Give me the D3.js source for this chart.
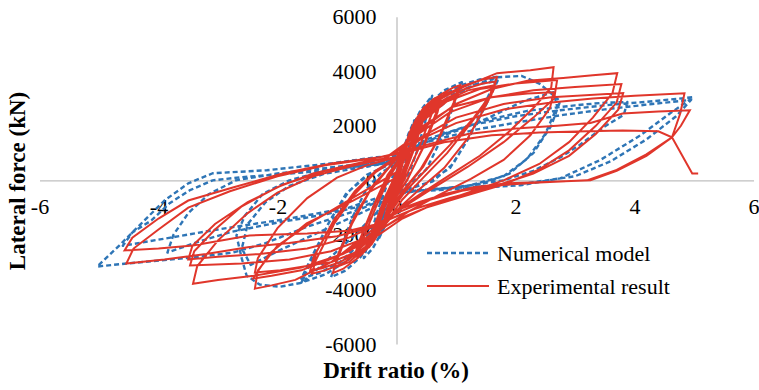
<!DOCTYPE html>
<html>
<head>
<meta charset="utf-8">
<script src="https://cdn.jsdelivr.net/npm/d3@7"></script>
<style>
  body { margin: 0; background: #ffffff; }
  text { font-family: "Liberation Serif", "Times New Roman", serif; fill: #000; }
</style>
</head>
<body>
<svg id="chart" width="759" height="390"></svg>
<script>
// Axis ticks and series names
const xTicks = [-6, -4, -2, 0, 2, 4, 6];
const yTicks = [-6000, -4000, -2000, 0, 2000, 4000, 6000];
const seriesNames = ["Numerical model", "Experimental result"];

// Numerical model: [drift ratio (%), lateral force (kN)] in loading order
const numerical = [
  [0, 0], [0.08, 800], [0.15, 1300], [0.1, 700], [0.03, 100], [0, -100], [-0.08, -900], [-0.15, -1300], [-0.1, -700], [-0.03, -50], [0, 100],
  [0.1, 1000], [0.2, 1700], [0.3, 2200], [0.24, 1500], [0.12, 400], [0, -200], [-0.1, -1000], [-0.2, -1700], [-0.3, -2150], [-0.24, -1450], [-0.12, -350], [0, 250],
  [0.1, 1000], [0.25, 1900], [0.4, 2550], [0.6, 3100], [0.5, 2300], [0.35, 1100], [0.2, 200], [0.05, -150], [0, -300], [-0.1, -1000], [-0.25, -1900], [-0.4, -2500], [-0.55, -2850], [-0.45, -2100], [-0.3, -1000], [-0.15, -100], [0, 300],
  [0.1, 1000], [0.3, 2000], [0.55, 2800], [0.8, 3300], [1.1, 3600], [0.95, 2700], [0.75, 1500], [0.5, 400], [0.25, -100], [0, -300], [-0.15, -1100], [-0.35, -2000], [-0.6, -2800], [-0.85, -3300], [-1.1, -3550], [-0.95, -2600], [-0.75, -1400], [-0.5, -300], [-0.25, 300], [0, 600],
  [0.15, 1300], [0.4, 2300], [0.7, 3000], [1.1, 3500], [1.4, 3700], [1.7, 3800], [1.5, 2900], [1.25, 1700], [0.95, 600], [0.6, -50], [0.3, -250], [0, -400], [-0.2, -1200], [-0.45, -2100], [-0.8, -2900], [-1.2, -3450], [-1.6, -3750], [-1.4, -2800], [-1.15, -1600], [-0.85, -500], [-0.5, 200], [-0.2, 500], [0, 700],
  [0.2, 1500], [0.5, 2400], [0.9, 3100], [1.3, 3500], [1.7, 3650], [1.5, 2750], [1.2, 1500], [0.9, 450], [0.5, -100], [0.2, -300], [0, -450], [-0.25, -1300], [-0.55, -2200], [-0.95, -3000], [-1.3, -3400], [-1.6, -3600], [-1.4, -2700], [-1.1, -1400], [-0.8, -400], [-0.45, 250], [-0.15, 550], [0, 700],
  [0.2, 1400], [0.5, 2300], [0.9, 3000], [1.3, 3500], [1.7, 3780], [2.1, 3830], [2.4, 3550], [2.65, 3100], [2.75, 2900], [2.6, 2000], [2.3, 1000], [1.9, 250], [1.4, -150], [0.8, -300], [0, -450], [-0.3, -1100], [-0.7, -2000], [-1.1, -2800], [-1.58, -3750], [-1.96, -3900], [-2.3, -3820], [-2.52, -3490], [-2.6, -2870], [-2.69, -2020], [-2.55, -1300], [-2.25, -500], [-1.8, 0], [-1.2, 350], [-0.6, 550], [0, 750],
  [0.3, 1200], [0.7, 1600], [1.07, 1850], [1.57, 2320], [2.13, 2900], [2.64, 3230], [2.7, 2700], [2.5, 1700], [2.2, 800], [1.8, 150], [1.2, -200], [0.5, -350], [0, -500], [-0.4, -1000], [-0.9, -1500], [-1.5, -2100], [-2.0, -2600], [-2.45, -3100], [-2.6, -2500], [-2.5, -1600], [-2.2, -800], [-1.8, -200], [-1.2, 250], [-0.5, 500], [0, 700],
  [0.3, 1200], [0.8, 1700], [1.5, 2200], [2.2, 2550], [3.0, 2750], [3.5, 2850], [3.88, 2870], [3.82, 2400], [3.48, 1950], [3.08, 1300], [2.76, 850], [2.3, 350], [1.8, 0], [1.0, -250], [0, -450], [-0.5, -900], [-1.2, -1250], [-2.0, -1550], [-2.8, -1900], [-3.4, -2300], [-3.85, -2650], [-3.75, -2000], [-3.5, -1200], [-3.15, -500], [-2.7, 0], [-2.0, 250], [-1.2, 450], [-0.4, 650], [0, 750],
  [0.5, 1500], [1.2, 2000], [2.0, 2350], [2.75, 2570], [3.5, 2750], [4.3, 2900], [4.99, 3050], [4.6, 2460], [4.1, 1650], [3.42, 740], [2.75, 70], [2.08, -180], [1.24, -290], [0.06, -440], [-0.6, -1050], [-1.5, -1700], [-2.2, -2300], [-2.75, -2650], [-3.43, -2830], [-3.98, -2940], [-4.54, -3050], [-5.03, -3160], [-4.66, -2390], [-4.32, -1650], [-3.9, -740], [-3.5, -110], [-3.09, 260], [-2.18, 370], [-1.07, 630], [-0.33, 850], [0, 900],
  [0.5, 1400], [1.3, 1850], [2.1, 2150], [2.8, 2400], [3.5, 2600], [4.3, 2800], [4.95, 2950], [4.7, 2350], [4.2, 1500], [3.6, 700], [3.0, 150], [2.2, -100], [1.2, -250], [0, -400], [-0.8, -1000], [-1.8, -1400], [-3.0, -1800], [-3.8, -2100], [-4.6, -2400], [-4.44, -1910], [-4.12, -1470], [-3.82, -850], [-3.48, -370], [-3.09, 0], [-2.63, 110], [-1.5, 300], [-0.5, 550], [0, 650]
];

// Experimental result: [drift ratio (%), lateral force (kN)] in loading order
const experimental = [
  [0, 0],
  [0.06, 500], [0.12, 1000], [0.14, 1150], [0.1, 700], [0.02, 150], [-0.05, -400], [-0.11, -900], [-0.14, -1050], [-0.1, -650], [-0.02, -50],
  [0.08, 700], [0.16, 1350], [0.22, 1750], [0.19, 1400], [0.08, 400], [-0.03, -300], [-0.12, -1050], [-0.2, -1550], [-0.23, -1650], [-0.18, -1200], [-0.07, -300], [0.02, 300],
  [0.12, 1100], [0.22, 1750], [0.32, 2200], [0.35, 2300], [0.3, 1800], [0.15, 600], [0, -300], [-0.15, -1200], [-0.28, -1850], [-0.35, -2100], [-0.3, -1650], [-0.12, -500], [0.02, 250],
  [0.14, 1250], [0.26, 1950], [0.36, 2350], [0.4, 2450], [0.34, 1950], [0.18, 750], [0.02, -250], [-0.14, -1150], [-0.27, -1800], [-0.38, -2200], [-0.4, -2250], [-0.33, -1700], [-0.15, -550], [0.01, 280],
  [0.15, 1300], [0.3, 2100], [0.42, 2550], [0.47, 2700], [0.42, 2250], [0.25, 1000], [0.05, -200], [-0.15, -1250], [-0.3, -1950], [-0.42, -2350], [-0.45, -2400], [-0.38, -1850], [-0.18, -600], [0, 300],
  [0.17, 1400], [0.33, 2200], [0.46, 2620], [0.52, 2780], [0.46, 2300], [0.28, 1050], [0.06, -250], [-0.16, -1300], [-0.33, -2050], [-0.46, -2450], [-0.5, -2500], [-0.42, -1950], [-0.2, -650], [0.02, 350],
  [0.15, 1300], [0.32, 2200], [0.5, 2750], [0.62, 2980], [0.68, 3050], [0.62, 2600], [0.4, 1300], [0.15, 100], [-0.05, -700], [-0.25, -1700], [-0.45, -2400], [-0.6, -2750], [-0.66, -2850], [-0.6, -2350], [-0.35, -1000], [-0.1, 200], [0.05, 700],
  [0.25, 1800], [0.45, 2550], [0.62, 2850], [0.74, 2950], [0.69, 2500], [0.45, 1200], [0.2, 100], [0, -600], [-0.2, -1500], [-0.45, -2350], [-0.62, -2650], [-0.7, -2750], [-0.64, -2300], [-0.4, -1000], [-0.15, 200], [0.05, 800],
  [0.22, 1700], [0.42, 2450], [0.6, 2800], [0.71, 2900], [0.66, 2450], [0.42, 1100], [0.18, 0], [-0.02, -650], [-0.22, -1600], [-0.46, -2400], [-0.63, -2700], [-0.68, -2700], [-0.62, -2250], [-0.38, -950], [-0.12, 250], [0.04, 750],
  [0.25, 1800], [0.5, 2700], [0.75, 3150], [0.95, 3400], [1.07, 3490], [1.0, 3000], [0.75, 1700], [0.45, 500], [0.15, -300], [-0.1, -1000], [-0.35, -2000], [-0.65, -2850], [-0.9, -3250], [-1.07, -3400], [-1.0, -2900], [-0.75, -1600], [-0.45, -400], [-0.15, 400], [0.05, 900],
  [0.3, 2000], [0.6, 2850], [0.85, 3200], [1.03, 3330], [0.96, 2850], [0.7, 1500], [0.4, 400], [0.1, -400], [-0.2, -1400], [-0.5, -2450], [-0.8, -3000], [-1.04, -3200], [-0.98, -2700], [-0.7, -1300], [-0.4, -200], [-0.1, 550], [0.1, 1000],
  [0.35, 2100], [0.7, 2950], [1.1, 3450], [1.45, 3700], [1.69, 3790], [1.62, 3250], [1.3, 2300], [0.9, 1300], [0.5, 400], [0.15, -400], [-0.15, -1300], [-0.5, -2400], [-0.9, -3050], [-1.2, -3300], [-1.42, -3420], [-1.36, -2950], [-1.05, -1600], [-0.7, -500], [-0.35, 300], [0, 800],
  [0.35, 2000], [0.75, 2900], [1.15, 3350], [1.45, 3550], [1.66, 3620], [1.59, 3100], [1.25, 2100], [0.85, 1000], [0.45, 100], [0.1, -700], [-0.2, -1600], [-0.55, -2500], [-0.95, -3000], [-1.25, -3220], [-1.45, -3300], [-1.39, -2800], [-1.05, -1450], [-0.7, -400], [-0.35, 350], [0, 850],
  [0.4, 2100], [0.8, 2900], [1.2, 3300], [1.62, 3480], [1.55, 2950], [1.2, 1550], [0.8, 450], [0.4, -300], [0.05, -1000], [-0.3, -1900], [-0.7, -2650], [-1.1, -3000], [-1.4, -3100], [-1.34, -2600], [-1.0, -1300], [-0.65, -300], [-0.3, 400], [0, 850],
  [0.35, 2100], [0.75, 3000], [1.12, 3420], [1.69, 3930], [2.25, 4040], [2.64, 4150], [2.6, 3400], [2.3, 2650], [1.9, 1800], [1.4, 900], [0.9, 200], [0.4, -500], [0, -1100], [-0.5, -2100], [-1.0, -2800], [-1.6, -3300], [-2.1, -3500], [-2.41, -3600], [-2.13, -2680], [-1.51, -1580], [-0.73, -740], [0, 100],
  [0.4, 2100], [0.85, 2900], [1.4, 3350], [2.0, 3550], [2.7, 3680], [2.65, 3000], [2.3, 2300], [1.8, 1400], [1.2, 500], [0.6, -300], [0.1, -1000], [-0.4, -1800], [-1.1, -3000], [-1.7, -3650], [-2.1, -3850], [-2.38, -3970], [-2.33, -3300], [-2.0, -2400], [-1.4, -1500], [-0.7, -600], [0, 300],
  [0.45, 2000], [0.95, 2700], [1.6, 3050], [2.2, 3180], [2.64, 3230], [2.58, 2650], [2.25, 1650], [1.8, 750], [1.25, 50], [0.7, -550], [0.2, -1150], [-0.3, -1850], [-0.8, -2600], [-1.4, -3100], [-1.95, -3300], [-2.38, -3380], [-2.33, -2850], [-2.0, -1750], [-1.5, -650], [-1.0, 100], [-0.5, 550], [0, 850],
  [0.5, 2000], [1.0, 2800], [1.6, 3350], [2.2, 3650], [2.8, 3750], [3.3, 3850], [3.71, 3930], [3.63, 3200], [3.3, 2300], [2.9, 1400], [2.4, 600], [1.8, 0], [1.2, -450], [0.6, -900], [0.1, -1400], [-0.3, -2000], [-0.9, -2700], [-1.6, -3200], [-2.4, -3500], [-3.0, -3650], [-3.42, -3790], [-3.35, -3150], [-3.0, -2200], [-2.5, -1200], [-2.0, -450], [-1.4, 150], [-0.8, 500], [-0.2, 800],
  [0.3, 1600], [0.9, 2500], [1.6, 3050], [2.3, 3300], [3.0, 3420], [3.78, 3530], [3.7, 2850], [3.35, 2000], [2.9, 1100], [2.4, 400], [1.8, -150], [1.1, -600], [0.5, -1000], [0, -1450], [-0.5, -2100], [-1.1, -2600], [-1.8, -2900], [-2.6, -3050], [-3.47, -3120], [-3.4, -2600], [-3.05, -1800], [-2.6, -950], [-2.0, -250], [-1.4, 250], [-0.8, 550], [-0.2, 800],
  [0.35, 1500], [1.0, 2300], [1.8, 2800], [2.6, 3050], [3.81, 3200], [3.73, 2600], [3.35, 1700], [2.9, 900], [2.3, 250], [1.6, -250], [0.9, -650], [0.3, -1050], [-0.2, -1500], [-0.8, -2100], [-1.5, -2500], [-2.3, -2700], [-3.0, -2800], [-3.5, -2900], [-3.43, -2400], [-3.05, -1600], [-2.5, -800], [-1.9, -150], [-1.2, 350], [-0.5, 700], [0, 850],
  [0.4, 1500], [1.0, 2100], [1.8, 2600], [2.6, 2850], [3.3, 3000], [4.0, 3100], [4.84, 3190], [4.77, 2460], [4.63, 1580], [4.2, 900], [3.7, 350], [3.26, 0], [2.5, -60], [1.86, -110], [1.3, -250], [0.85, -480], [0.4, -780], [0, -1100], [-0.28, -1580], [-0.8, -1850], [-1.5, -1950], [-2.47, -2020], [-3.42, -2390], [-4.0, -2500], [-4.57, -2570], [-4.44, -2100], [-4.0, -1400], [-3.5, -740], [-2.75, -260], [-1.9, 260], [-1.07, 630], [-0.28, 850], [0.2, 1100],
  [0.5, 1300], [1.2, 1700], [2.0, 1900], [2.7, 2000], [3.26, 2100], [3.8, 2450], [4.4, 2520], [4.93, 2570], [4.78, 2000], [4.63, 1580], [4.2, 950], [3.7, 380], [3.2, 0], [2.4, -80], [1.7, -180], [1.1, -380], [0.5, -750], [0, -1200], [-0.4, -1700], [-1.0, -2050], [-1.8, -2300], [-2.5, -2450], [-3.2, -2700], [-3.9, -2900], [-4.54, -3050], [-4.42, -2500], [-4.0, -1800], [-3.5, -1000], [-2.8, -400], [-2.0, 150], [-1.2, 550], [-0.4, 800], [0.2, 1050],
  [0.8, 1400], [1.6, 1650], [2.4, 1750], [3.2, 1800], [3.8, 1830], [4.4, 1800], [4.63, 1580], [4.97, 250], [5.07, 250]
];

const svg = d3.select("#chart");

const x = d3.scaleLinear().domain([-6, 6]).range([39.5, 753.5]);
const y = d3.scaleLinear().domain([-6000, 6000]).range([344, 16.7]);

const axisColor = "#BFBFBF";

// x axis through zero force
const gx = svg.append("g")
  .attr("transform", `translate(0,${y(0)})`)
  .call(d3.axisBottom(x).tickValues(xTicks).tickSize(0).tickSizeOuter(0).tickPadding(18));
// y axis through zero drift
const gy = svg.append("g")
  .attr("transform", `translate(${x(0)},0)`)
  .call(d3.axisLeft(y).tickValues(yTicks).tickSize(0).tickSizeOuter(0).tickPadding(20));

[gx, gy].forEach(g => {
  g.select(".domain").attr("stroke", axisColor).attr("stroke-width", 1.3);
  g.selectAll("text")
    .attr("font-family", '"Liberation Serif", "Times New Roman", serif')
    .attr("font-size", 22)
    .attr("fill", "#000")
    .text(d => d < 0 ? "-" + Math.abs(d) : String(d));
});

const line = d3.line().x(d => x(d[0])).y(d => y(d[1]));

const blue = "#2E75B6";
const red = "#E0362B";

svg.append("path")
  .datum(numerical)
  .attr("fill", "none")
  .attr("stroke", blue)
  .attr("stroke-width", 2.4)
  .attr("stroke-dasharray", "5,3")
  .attr("stroke-linejoin", "round")
  .attr("d", line);

svg.append("path")
  .datum(experimental)
  .attr("fill", "none")
  .attr("stroke", red)
  .attr("stroke-width", 2)
  .attr("stroke-linejoin", "miter")
  .attr("d", line);

// Axis titles
svg.append("text")
  .attr("x", 396)
  .attr("y", 378)
  .attr("text-anchor", "middle")
  .attr("font-size", 23)
  .attr("font-weight", "bold")
  .text("Drift ratio (%)");

svg.append("text")
  .attr("transform", "translate(25,181) rotate(-90)")
  .attr("text-anchor", "middle")
  .attr("font-size", 23)
  .attr("font-weight", "bold")
  .text("Lateral force (kN)");

// Legend
const legend = svg.append("g");
const legendItems = [
  { name: seriesNames[0], color: blue, dash: "5,3", width: 2.4, y: 253 },
  { name: seriesNames[1], color: red, dash: null, width: 2, y: 286 }
];
legendItems.forEach(item => {
  legend.append("line")
    .attr("x1", 427).attr("x2", 489)
    .attr("y1", item.y).attr("y2", item.y)
    .attr("stroke", item.color)
    .attr("stroke-width", item.width)
    .attr("stroke-dasharray", item.dash);
  legend.append("text")
    .attr("x", 497)
    .attr("y", item.y + 8)
    .attr("font-size", 22)
    .text(item.name);
});
</script>
</body>
</html>
